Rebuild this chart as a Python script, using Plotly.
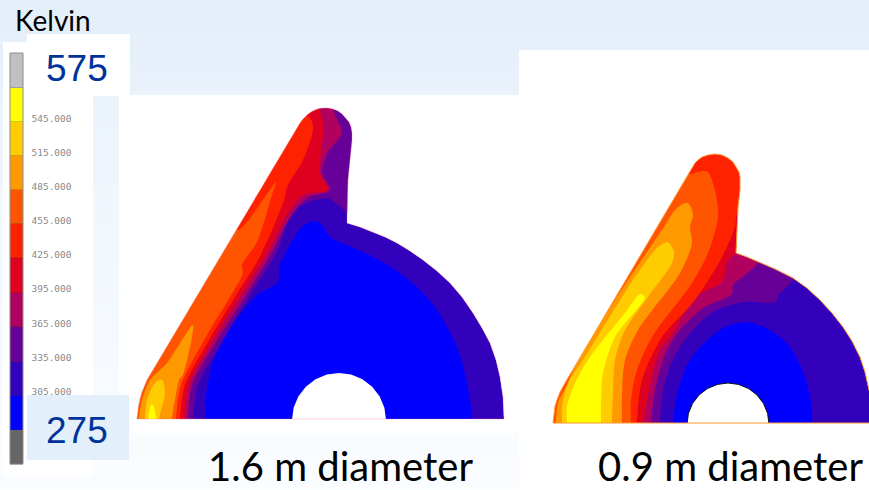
import plotly.graph_objects as go

W, H = 869, 490
# colour key
KEY_LABELS = ["545.000", "515.000", "485.000", "455.000", "425.000", "395.000", "365.000", "335.000", "305.000"]
KEY_LABEL_Y = [119.5, 153.5, 188, 222, 256, 290, 324.5, 359, 393]
KEY_EDGES = [53, 88, 122, 156, 190, 224, 258, 293, 327, 362, 396, 430, 464]
KEY_COLORS = ["#c0c0c0", "#ffff00", "#ffcc00", "#ff9900", "#ff5500", "#ff2200", "#e00020", "#b00060",
              "#660099", "#3300bb", "#0000ff", "#666666"]
KEY_X = (10, 23)
BG_Y = [-10, 50, 100, 200, 300, 400, 500]
BG_SHADE = [0, 0.03, 0.25, 0.5, 0.68, 0.85, 1]
PANELS = [(519, 50, 880, 500), (119, 95, 519, 433), (3, 42, 93, 476), (27, 34, 130, 96)]

# ---- 1.6 m section
L_OUT = [(137,419),(137.5,413),(138.5,406),(140,399),(142,392),(144.5,386),(147,380),(300,123),(303,119),(307,115),(311,112),(315,110),(319,108.5),(323,108),(328,108),(333,109),(338,111),(342,114),(346,118),(349,122),(351,127),(352,133),(352,140),(351,150),(350,165),(348,180),(347.5,200),(347,223),(360,227),(373,232),(385,237),(397,243),(410,251),(423,260),(437,271),(450,283),(462,297),(473,313),(482,328),(490,343),(496,360),(500,377),(503,397),(504,419),(137,419)]
L_HOLE = [(292,420),(293.6,407.8),(298.3,396.5),(305.8,386.8),(315.5,379.3),(326.8,374.6),(339,373),(351.2,374.6),(362.5,379.3),(372.2,386.8),(379.7,396.5),(384.4,407.8),(386,420)]
L_BLUE = [(205,432),(205,419),(206,395),(213,362),(230,328),(257,295),(278,282),(280,265),(302,227),(315,221),(322,225),(330,237),(347,245),(383,262),(417,287),(437,310),(457,347),(468,387),(472,419),(472,432)]
L_RIM = [(125,432),(125,400),(135,372),(288,118)]
L_660 = L_RIM + [(300,103),(323,98),(345,103),(358,120),(362,135),(358,180),(356,212),(347,212),(338,205),(327,198),(307,203),(292,212),(277,252),(252,292),(222,342),(198,385),(193,419),(193,432)]
L_B00 = L_RIM + [(300,103),(323,98),(331,102),(335,115),(342,133),(328,152),(322,173),(330,190),(307,198),(290,218),(272,252),(248,292),(216,342),(192,385),(188,419),(188,432)]
L_E00 = L_RIM + [(300,103),(318,98),(320,109),(323,122),(323,135),(320,173),(328,190),(303,195),(287,215),(268,252),(243,292),(212,342),(189,385),(185,419),(185,432)]
L_F22 = L_RIM + [(296,110),(303,115),(309,117),(313,125),(312,135),(303,160),(287,187),(285,197),(273,228),(257,262),(238,292),(208,342),(185,385),(180,419),(180,432)]
L_F55 = L_RIM[:3] + [(222,232),(240,229),(276,182),(272,195),(257,242),(242,265),(243,273),(233,292),(207,335),(181,385),(176,419),(176,432)]
L_F99 = [(139,432),(139,419),(142,400),(150,380),(167,363),(193,325),(182,377),(180,378),(175,400),(172,419),(172,432)]
L_FCC = [(145,432),(145,419),(147,400),(155,383),(162,380),(165,393),(159,419),(159,432)]
L_FF0 = [(148,432),(148,419),(151,405),(153,405),(156,419),(156,432)]

# ---- 0.9 m section
R_OUT = [(553,423),(554,413),(555,406),(557,400),(560,392),(565,383),(692,168),(695,163),(698,160),(702,157),(708,155),(715,154),(722,155),(728,158),(733,162),(737,168),(739,172),(740,177),(740,190),(738,207),(737,230),(736,253),(747,257),(757,261),(775,269),(793,278),(807,288),(820,300),(832,313),(843,327),(852,341),(860,357),(865,372),(869,390),(875,410),(880,423),(553,423)]
R_HOLE = [(687,424),(688.4,413.4),(692.5,403.5),(699,395),(707.5,388.5),(717.4,384.4),(728,383),(738.6,384.4),(748.5,388.5),(757,395),(763.5,403.5),(767.6,413.4),(769,424)]
R_BLUE = [(673,432),(673,423),(677,395),(687,365),(702,345),(723,328),(747,322),(770,330),(790,347),(805,377),(812,410),(812,423),(812,432)]
R_RIM = [(540,432),(540,400),(550,378),(682,160)]
R_660 = R_RIM + [(695,145),(715,142),(732,146),(745,165),(750,177),(748,207),(746,250),(760,252),(796,270),(793,280),(778,296),(776,302),(743,302),(713,312),(690,333),(675,355),(664,385),(660,423),(660,432)]
R_B00 = R_RIM + [(695,145),(715,142),(732,146),(745,165),(750,177),(748,207),(746,250),(762,253),(759,262),(745,275),(733,285),(732,294),(703,308),(680,330),(667,350),(656,385),(651,423),(651,432)]
R_E00 = R_RIM + [(695,145),(715,142),(732,146),(745,165),(750,177),(748,207),(746,240),(740,250),(728,260),(722,282),(698,295),(680,320),(672,335),(660,350),(650,385),(644,423),(644,432)]
R_F22 = R_RIM + [(695,145),(715,142),(732,146),(745,165),(750,177),(748,207),(737,215),(735,227),(722,257),(695,300),(662,337),(642,380),(637,423),(637,432)]
R_F55 = R_RIM[:3] + [(680,168),(689,174),(702,171),(708,172),(715,190),(718,217),(708,253),(692,283),(652,337),(637,370),(631,400),(631,423),(631,432)]
R_F99 = [(556,432),(556,423),(558,403),(567,385),(578,360),(628,280),(662,230),(677,208),(688,203),(693,215),(690,227),(692,243),(680,273),(638,330),(625,360),(622,393),(622,423),(622,432)]
R_FCC = [(562,432),(562,423),(562,407),(568,383),(583,360),(635,277),(658,247),(668,242),(674,252),(672,263),(648,297),(625,330),(615,360),(613,393),(612,423),(612,432)]
R_FF0 = [(567,432),(567,423),(567,407),(572,390),(588,360),(625,313),(640,294),(645,297),(615,337),(603,373),(601,403),(601,423),(601,432)]
L_MASK_BOX = [(122,97),(122,432),(519,432),(519,97),(122,97)]
R_MASK_BOX = [(522,52),(522,440),(880,440),(880,52),(522,52)]

fig = go.Figure()
fig.add_trace(go.Heatmap(x=[-10, 880], y=BG_Y, z=[[s, s] for s in BG_SHADE], zmin=0, zmax=1, zsmooth="best",
                         colorscale=[[0, "#e5effa"], [1, "#fbfdff"]], showscale=False, hoverinfo="skip"))

def poly(points, color, smooth=False):
    fig.add_trace(go.Scatter(x=[p[0] for p in points], y=[p[1] for p in points], mode="lines", fill="toself",
                             fillcolor=color,
                             line=dict(color=color, width=0, shape="spline" if smooth else "linear", smoothing=0.8),
                             hoverinfo="skip", showlegend=False))

def stroke(points, color, lw):
    fig.add_trace(go.Scatter(x=[p[0] for p in points], y=[p[1] for p in points], mode="lines",
                             line=dict(color=color, width=lw), hoverinfo="skip", showlegend=False))

def mask(box, outline):
    poly(box + [(None, None)] + outline, "#ffffff")

for x0, y0, x1, y1 in PANELS:
    poly([(x0, y0), (x1, y0), (x1, y1), (x0, y1)], "#ffffff")

# colour key
for c, a, b in zip(KEY_COLORS, KEY_EDGES, KEY_EDGES[1:]):
    poly([(KEY_X[0], a), (KEY_X[1], a), (KEY_X[1], b), (KEY_X[0], b)], c)
    stroke([(KEY_X[0], b), (KEY_X[1], b)], "rgba(40,40,40,0.45)", 1)
stroke([(KEY_X[0], KEY_EDGES[0]), (KEY_X[1], KEY_EDGES[0]), (KEY_X[1], KEY_EDGES[-1]), (KEY_X[0], KEY_EDGES[-1]),
        (KEY_X[0], KEY_EDGES[0])], "#8c8c8c", 1)
fig.add_trace(go.Scatter(x=[51.5] * len(KEY_LABELS), y=KEY_LABEL_Y, mode="text", text=KEY_LABELS,
                         textfont=dict(family="DejaVu Sans Mono", size=9.5, color="#8a8a8a"),
                         hoverinfo="skip", showlegend=False))

poly(L_OUT, "#3300bb")
for pts, c in [(L_BLUE, "#0000ff"), (L_660, "#660099"), (L_B00, "#b00060"), (L_E00, "#e00020"), (L_F22, "#ff2200"),
               (L_F55, "#ff5500"), (L_F99, "#ff9900"), (L_FCC, "#ffcc00"), (L_FF0, "#ffff00")]:
    poly(pts, c, smooth=True)
poly(L_HOLE, "#ffffff")
mask(L_MASK_BOX, L_OUT)
stroke(L_OUT, "rgba(240,120,150,0.35)", 1)

poly(R_OUT, "#3300bb")
for pts, c in [(R_BLUE, "#0000ff"), (R_660, "#660099"), (R_B00, "#b00060"), (R_E00, "#e00020"), (R_F22, "#ff2200"),
               (R_F55, "#ff5500"), (R_F99, "#ff9900"), (R_FCC, "#ffcc00"), (R_FF0, "#ffff00")]:
    poly(pts, c, smooth=True)
poly(R_HOLE, "#ffffff")
stroke(R_HOLE, "#111111", 1)
mask(R_MASK_BOX, R_OUT)
stroke(R_OUT, "#ff9933", 1)

# box that sits over the 305 label
fig.add_shape(type="rect", x0=27, x1=129, y0=395, y1=460, fillcolor="#e3f0fb", line_width=0, layer="above")

def label(x, y, text, size, color, family):
    fig.add_annotation(x=x, y=y, text=text, showarrow=False, xanchor="center", yanchor="middle",
                       font=dict(family=family, size=size, color=color))

label(53, 20, "Kelvin", 28, "#000000", "Lato")
label(77, 68, "575", 37, "#003399", "Liberation Sans")
label(77, 430, "275", 37, "#003399", "Liberation Sans")
fig.add_trace(go.Scatter(x=[340.5, 730.5], y=[471, 471], mode="text", text=["1.6 m diameter", "0.9 m diameter"],
                         textposition="middle center", textfont=dict(family="Lato", size=40, color="#000000"),
                         cliponaxis=False, hoverinfo="skip", showlegend=False))

fig.update_layout(width=W, height=H, margin=dict(l=0, r=0, t=0, b=0), paper_bgcolor="#ffffff",
                  plot_bgcolor="#ffffff", showlegend=False,
                  xaxis=dict(range=[0, W], visible=False, fixedrange=True),
                  yaxis=dict(range=[H, 0], visible=False, fixedrange=True))
fig.write_html("out.html", config=dict(displayModeBar=False),
               post_script="document.body.style.margin='0';document.documentElement.style.overflow='hidden';")
